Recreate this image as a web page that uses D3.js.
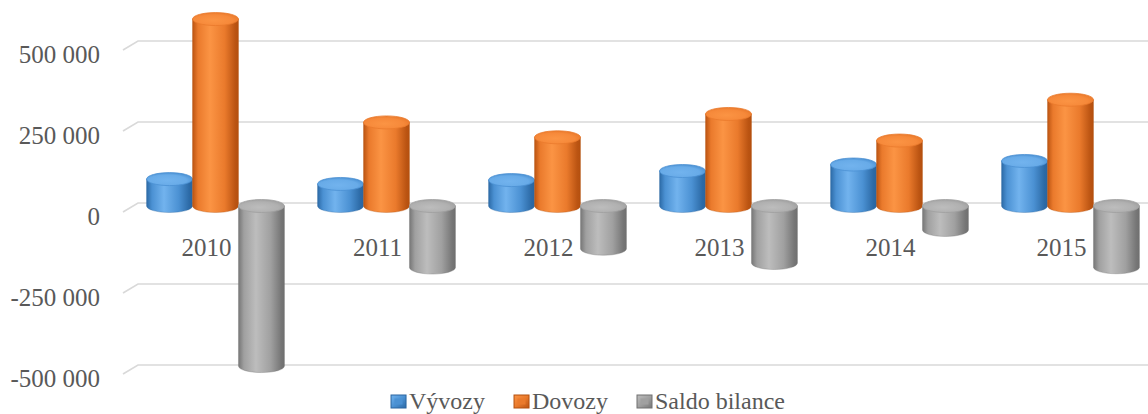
<!DOCTYPE html>
<html>
<head>
<meta charset="utf-8">
<script src="https://cdn.jsdelivr.net/npm/d3@7"></script>
<style>
  html, body { margin: 0; padding: 0; background: #fff; }
  svg { display: block; }
  text { font-family: "Liberation Serif", "DejaVu Serif", serif; fill: #595959; }
</style>
</head>
<body>
<svg id="chart" width="1148" height="414"></svg>
<script>
// Foreign trade by year: exports, imports and the resulting balance
const years = ["2010", "2011", "2012", "2013", "2014", "2015"];
const vyvozy = [83000, 68000, 80000, 108000, 128000, 139000];
const dovozy = [577000, 258000, 212000, 284000, 202000, 328000];
const saldo = [-494000, -190000, -132000, -176000, -74000, -189000];
const seriesNames = ["Vývozy", "Dovozy", "Saldo bilance"];
const tickValues = [-500000, -250000, 0, 250000, 500000];

const seriesValues = [vyvozy, dovozy, saldo];
const palette = {
  "Vývozy":        { dark: "#2c6aa6", mid: "#4b91d3", light: "#72b3ee", top: "#68abe8", edge: "#2a65a0" },
  "Dovozy":        { dark: "#bb5412", mid: "#ea7a2c", light: "#fb9444", top: "#f6893a", edge: "#b4500f" },
  "Saldo bilance": { dark: "#767676", mid: "#a0a0a0", light: "#bdbdbd", top: "#b0b0b0", edge: "#707070" }
};

const svg = d3.select("#chart");
const defs = svg.append("defs");

seriesNames.forEach((name, i) => {
  const c = palette[name];
  const body = defs.append("linearGradient").attr("id", "body" + i)
    .attr("x1", "0%").attr("x2", "100%").attr("y1", "0%").attr("y2", "0%");
  [[0, c.dark], [0.12, c.mid], [0.38, c.light], [0.7, c.mid], [0.93, c.dark], [1, c.edge]]
    .forEach(([o, col]) => body.append("stop").attr("offset", o).attr("stop-color", col));
  const top = defs.append("radialGradient").attr("id", "top" + i)
    .attr("cx", "45%").attr("cy", "60%").attr("r", "60%");
  [[0, c.light], [0.7, c.top], [1, c.mid]]
    .forEach(([o, col]) => top.append("stop").attr("offset", o).attr("stop-color", col));
  const key = defs.append("linearGradient").attr("id", "key" + i)
    .attr("x1", "0%").attr("x2", "100%").attr("y1", "0%").attr("y2", "100%");
  [[0, c.light], [0.5, c.mid], [1, c.dark]]
    .forEach(([o, col]) => key.append("stop").attr("offset", o).attr("stop-color", col));
});

// Value scale on the back wall; bars sit slightly in front of it
const y = d3.scaleLinear().domain([-500000, 500000]).range([365, 41]);
const depth = 3;
const wallSlant = { dx: 15, dy: 9 };

const x0 = d3.scaleBand().domain(years).range([130, 1156]).padding(0);
const x1 = d3.scaleBand().domain(seriesNames).range([0, x0.bandwidth()])
  .paddingInner(0).paddingOuter(0.36);

// Gridlines: side-wall slant plus back-wall line
const wallLeft = x0.range()[0] + 8;
const grid = svg.append("g");
tickValues.forEach(v => {
  grid.append("path")
    .attr("d", `M${wallLeft - wallSlant.dx},${y(v) + wallSlant.dy} L${wallLeft},${y(v)} L1148,${y(v)}`)
    .attr("fill", "none").attr("stroke", "#d9d9d9").attr("stroke-width", 1.6);
});

// Value axis labels
svg.append("g").selectAll("text").data(tickValues).join("text")
  .attr("x", 100).attr("y", d => y(d) + 13)
  .attr("text-anchor", "end").attr("dominant-baseline", "central")
  .attr("font-size", 25)
  .text(d => d3.format(",")(d).replace(/,/g, " ").replace("−", "-"));

// Category labels
svg.append("g").selectAll("text").data(years).join("text")
  .attr("x", d => x0(d) + x0.bandwidth() / 2 - 9)
  .attr("y", y(0) + 44)
  .attr("text-anchor", "middle").attr("dominant-baseline", "central")
  .attr("font-size", 25)
  .text(d => d);

// Cylinders
const ry = 6.5;
const bars = svg.append("g");
years.forEach((yr, j) => {
  seriesNames.forEach((name, i) => {
    const v = seriesValues[i][j];
    const xl = x0(yr) + x1(name);
    const w = x1.bandwidth();
    const rx = w / 2;
    const cx = xl + rx;
    const yTop = y(Math.max(v, 0)) + depth;
    const yBot = y(Math.min(v, 0)) + depth;
    const g = bars.append("g");
    g.append("path")
      .attr("d", `M${xl},${yTop} L${xl},${yBot} A${rx},${ry} 0 0 0 ${xl + w},${yBot} L${xl + w},${yTop} Z`)
      .attr("fill", `url(#body${i})`)
      .attr("stroke", palette[name].edge).attr("stroke-width", 0.6).attr("stroke-opacity", 0.6);
    g.append("ellipse")
      .attr("cx", cx).attr("cy", yTop).attr("rx", rx).attr("ry", ry)
      .attr("fill", `url(#top${i})`)
      .attr("stroke", palette[name].mid).attr("stroke-width", 0.8);
  });
});

// Legend
const legend = svg.append("g");
let lx = 0;
const items = [];
seriesNames.forEach((name, i) => {
  const it = legend.append("g");
  it.append("rect").attr("x", 0).attr("y", -14).attr("width", 15).attr("height", 13)
    .attr("fill", `url(#key${i})`).attr("stroke", palette[name].edge).attr("stroke-width", 1);
  it.append("rect").attr("x", 3.5).attr("y", -10.5).attr("width", 8).attr("height", 6)
    .attr("fill", palette[name].mid);
  const t = it.append("text").attr("x", 18).attr("y", 0).attr("font-size", 24).text(name);
  const tw = t.node().getComputedTextLength();
  it.attr("transform", `translate(${lx},0)`);
  lx += 18 + tw + 29;
});
const legendWidth = lx - 29;
legend.attr("transform", `translate(${588 - legendWidth / 2},409)`);
</script>
</body>
</html>
